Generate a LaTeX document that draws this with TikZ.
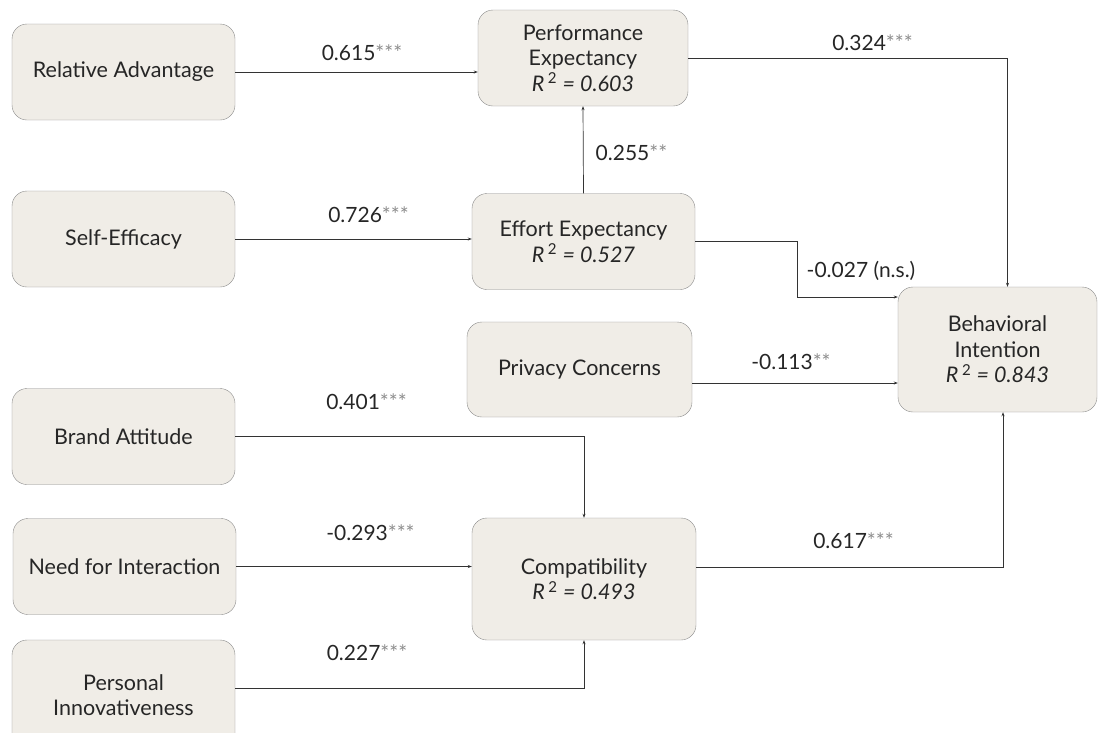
\documentclass[tikz,border=0pt]{standalone}
\usepackage{fontspec}
\setmainfont{Lato}
\usetikzlibrary{arrows.meta}
\definecolor{boxfill}{HTML}{F0EDE7}
\definecolor{boxline}{HTML}{8A8A8A}
\definecolor{pathline}{HTML}{333333}
\definecolor{startext}{HTML}{8C8C8C}
\newcommand{\pathcoef}[2]{#1{\color{startext}#2}}
\newcommand{\rsq}[1]{\textit{R}\,\textsuperscript{2} \textit{= #1}}

\begin{document}
\begin{tikzpicture}[x = 1pt, y = -1pt,
	construct/.style = {draw = boxline, fill = boxfill, rounded corners = 15pt, minimum width = 223pt, minimum height = 96pt, inner sep = 0pt, align = center, text = black!85, font = \fontsize{21.5}{25.5}\selectfont},
	link/.style = {draw = pathline, line width = .7pt, -{Stealth[length = 4pt, width = 3pt]}},
	coeflabel/.style = {text = black!85, font = \fontsize{21}{24}\selectfont}]
	\useasboundingbox (0,0) rectangle (1098,732);
	% constructs
	\node[construct] (ra) at (123.5,72) {Relative Advantage};
	\node[construct] (se) at (123.5,239) {Self-Efficacy};
	\node[construct] (ba) at (123.5,436.5) {Brand Attitude};
	\node[construct] (nfi) at (124.5,566.5) {Need for Interaction};
	\node[construct, minimum height = 110pt] (pi) at (123.5,695) {Personal\\Innovativeness};
	\node[construct, minimum width = 210pt] (pe) at (583,58) {Performance\\Expectancy\\\rsq{0.603}};
	\node[construct] (ee) at (583.5,241.5) {Effort Expectancy\\\rsq{0.527}};
	\node[construct, minimum width = 225pt, minimum height = 95pt] (pc) at (579.5,369.5) {Privacy Concerns};
	\node[construct, minimum width = 224pt, minimum height = 122pt] (cp) at (584,579) {Compatibility\\\rsq{0.493}};
	\node[construct, minimum width = 199pt, minimum height = 125pt] (bi) at (997.5,349.5) {Behavioral\\Intention\\\rsq{0.843}};
	% paths
	\draw[link] (ra.east) -- (ra.east -| pe.west);
	\draw[link] (se.east) -- (se.east -| ee.west);
	\draw[link] (ee.north) -- (pe.south);
	\draw[link] (pe.east) -| ([xshift = 10pt]bi.north);
	\draw[link] (ee.east) -- ++(102,0) |- ([yshift = 52.5pt]bi.west);
	\draw[link] ([yshift = -13.5pt]pc.east) -- ([yshift = -13.5pt]pc.east -| bi.west);
	\draw[link] (ba.east) -| (cp.north);
	\draw[link] (nfi.east) -- (nfi.east -| cp.west);
	\draw[link] ([yshift = 7pt]pi.east) -| (cp.south);
	\draw[link] ([yshift = 12pt]cp.east) -| ([xshift = 5.5pt]bi.south);
	% coefficients
	\node[coeflabel] (c1) at (362,53) {\pathcoef{0.615}{***}};
	\node[coeflabel] (c2) at (368.5,215) {\pathcoef{0.726}{***}};
	\node[coeflabel] (c3) at (631.5,153) {\pathcoef{0.255}{**}};
	\node[coeflabel] (c4) at (872.5,43) {\pathcoef{0.324}{***}};
	\node[coeflabel] (c5) at (861,271) {-0.027 (n.s.)};
	\node[coeflabel] (c6) at (791,362) {\pathcoef{-0.113}{**}};
	\node[coeflabel] (c7) at (366.5,402) {\pathcoef{0.401}{***}};
	\node[coeflabel] (c8) at (370.5,533) {\pathcoef{-0.293}{***}};
	\node[coeflabel] (c9) at (367,653) {\pathcoef{0.227}{***}};
	\node[coeflabel] (c10) at (853.5,541) {\pathcoef{0.617}{***}};
\end{tikzpicture}
\end{document}
